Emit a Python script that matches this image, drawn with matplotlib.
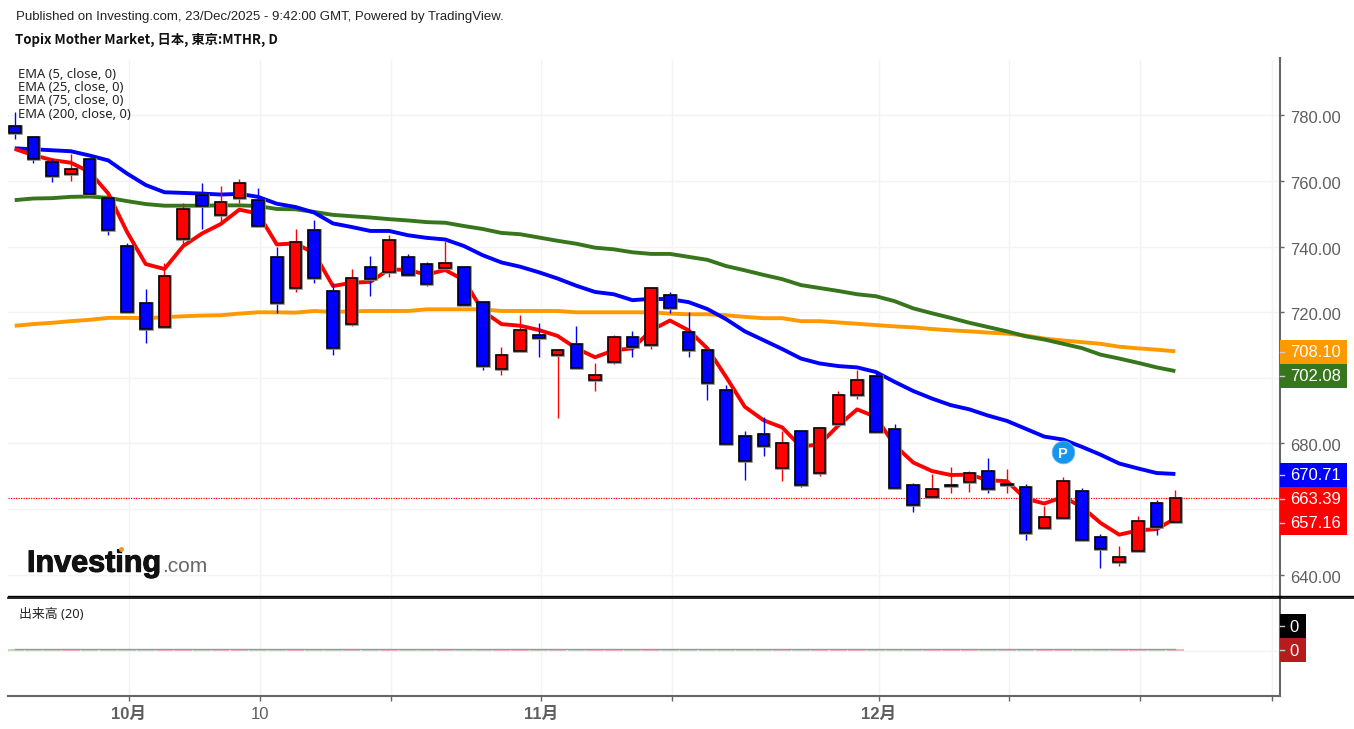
import matplotlib
matplotlib.use("Agg")
import matplotlib.pyplot as plt
import matplotlib.patheffects as pe
from matplotlib.lines import Line2D
from matplotlib.patches import Rectangle
from matplotlib.transforms import ScaledTranslation

W, H = 1354, 729

opens = [776.8,773.5,765.7,762.1,766.6,754.8,740.2,722.8,715.4,742.4,755.7,749.7,754.7,754.3,736.9,727.3,745.1,726.4,716.3,733.8,732.3,
         736.9,734.7,733.6,733.7,723.2,702.6,708.1,713.2,707.1,710.4,699.3,704.9,712.6,709.9,725.4,714.0,708.5,696.2,682.4,682.9,672.4,
         683.8,671.0,685.8,694.8,700.7,684.3,667.4,663.7,667.1,668.3,671.5,667.4,666.6,654.1,657.3,665.5,651.4,644.0,647.2,661.9,656.0]
highs = [781.0,773.5,766.6,768.2,766.7,754.8,741.2,727.0,734.9,753.2,759.5,758.6,760.5,757.8,739.9,745.4,748.1,728.8,733.1,737.1,743.5,
         737.9,735.2,741.7,733.9,723.2,709.3,719.3,716.6,708.5,715.7,704.6,713.0,714.2,727.7,726.1,720.1,708.5,697.7,683.7,688.1,683.7,
         683.8,684.8,695.9,702.3,701.4,685.8,668.0,670.8,672.7,671.6,675.7,672.1,667.5,661.0,669.9,666.3,652.5,648.8,658.0,662.9,665.7]
lows = [772.9,765.6,759.6,760.0,756.0,743.6,720.0,710.7,715.4,740.8,745.4,747.6,753.2,745.9,719.8,726.2,729.0,707.0,715.7,724.9,730.8,
        731.0,728.1,733.6,722.2,702.4,701.0,708.1,706.5,687.8,703.1,695.9,704.3,706.5,708.8,719.7,706.5,693.2,679.7,669.0,676.3,668.6,
        666.8,670.0,685.3,693.7,683.4,666.5,659.0,663.7,664.9,665.3,664.9,664.9,650.7,654.1,657.3,650.5,642.0,642.5,647.2,652.1,656.0]
closes = [774.8,766.7,761.6,763.6,756.1,745.1,720.0,715.0,731.0,751.5,752.5,753.5,759.4,746.4,722.7,741.5,730.5,709.0,730.5,730.0,741.9,
          731.4,728.7,735.1,722.2,703.6,707.1,714.5,712.2,708.5,703.1,700.8,712.6,709.5,727.3,721.3,708.5,698.5,679.7,674.7,679.3,680.2,
          667.4,684.8,694.8,699.4,683.4,666.5,661.4,666.1,667.3,671.0,666.0,667.5,652.7,657.7,668.7,650.5,647.8,645.4,656.4,654.6,663.39]

ema5 = [769.8,767.9,766.4,765.6,762.8,756.2,744.5,734.7,733.2,740.2,744.0,746.9,751.3,750.1,740.7,741.0,738.0,728.0,729.0,729.3,733.1,
        732.9,731.5,732.9,729.8,720.4,716.4,715.9,714.6,712.8,709.0,706.3,708.4,709.0,714.5,717.5,714.5,709.0,700.3,691.2,687.1,684.9,
        679.0,679.8,685.5,690.4,688.1,679.5,674.2,671.6,670.4,670.5,668.8,668.5,663.2,661.7,663.7,660.7,655.8,652.2,653.5,653.9,657.16]
ema25 = [770.0,769.7,769.4,769.1,767.8,766.3,762.3,758.8,756.6,756.4,756.2,755.9,756.1,755.2,753.1,752.1,750.4,747.1,746.0,744.8,744.8,
         743.5,742.7,742.2,740.2,737.4,735.2,733.9,732.2,730.3,728.1,726.2,725.5,723.7,724.1,724.0,723.1,721.0,717.9,714.2,711.5,708.8,
         705.9,704.4,703.6,703.2,701.8,698.8,696.0,693.7,691.7,690.4,688.5,686.9,684.5,682.1,681.2,679.0,676.6,673.9,672.4,671.0,670.71]
ema75 = [754.2,754.7,754.8,755.2,755.3,754.9,753.9,753.0,752.5,752.5,752.5,752.6,752.6,752.4,751.5,751.4,750.6,749.7,749.3,748.9,748.4,
         748.0,747.5,747.3,746.3,745.4,744.2,743.8,742.8,741.8,740.9,739.7,739.2,738.3,737.8,737.8,736.9,736.0,734.1,732.8,731.4,730.1,
         728.3,727.4,726.5,725.5,724.9,723.4,721.2,719.7,718.3,716.8,715.5,714.2,712.7,711.7,710.4,709.1,707.1,705.9,704.6,703.2,702.08]
ema200 = [715.9,716.4,716.8,717.3,717.7,718.3,718.3,718.2,718.5,718.8,719.0,719.1,719.6,720.0,720.0,719.9,720.4,720.1,720.3,720.4,720.4,
          720.4,720.9,720.9,720.9,720.9,720.4,720.4,720.4,720.4,720.0,720.0,720.0,720.0,720.0,719.6,719.4,719.4,719.1,718.6,718.2,718.2,
          717.3,717.3,716.9,716.5,716.1,715.7,715.4,714.9,714.5,714.2,713.8,713.5,712.9,712.0,711.4,710.9,710.4,709.5,709.0,708.6,708.10]
# pane volume is effectively zero; bars are hairlines
volume = [1.5] * 63
volume_ma = [1.5] * 63

price_ticks = [640, 660, 680, 700, 720, 740, 760, 780]
hidden_price_labels = [660, 700]
date_ticks = [6.09, 13.12, 20.12, 28.13, 35.1, 46.15, 53.13, 60.09, 67.15]
date_labels = ["10月", "10", "", "11月", "", "12月", "", "", ""]
date_bold = [True, False, False, True, False, True, False, False, False]
legend_labels = ["EMA (5, close, 0)", "EMA (25, close, 0)", "EMA (75, close, 0)", "EMA (200, close, 0)"]

C_UP, C_DOWN = "#ff0000", "#0000ff"
C_GRID = "#f3f3f3"
C_AXIS = "#666666"
C_TEXT = "#5f5f5f"
SANS = ["Liberation Sans", "Noto Sans CJK JP", "DejaVu Sans"]
NOTO = ["Noto Sans", "Noto Sans CJK JP", "DejaVu Sans"]

fig = plt.figure(figsize=(W / 100, H / 100), dpi=100, facecolor="white")


def pane(left, top, right, bottom):
    return fig.add_axes([left / W, 1 - bottom / H, (right - left) / W, (bottom - top) / H])


ax = pane(8, 60, 1280, 597)
vax = pane(8, 598, 1280, 696)
xlim = (-0.358, 67.59)
xs = list(range(len(closes)))

for a in (ax, vax):
    a.set_xlim(*xlim)
    a.set_xticks(date_ticks)
    a.grid(True, axis="x", color=C_GRID, lw=1)
    a.set_axisbelow(True)
    for s in a.spines.values():
        s.set_visible(False)
    a.yaxis.tick_right()
    a.patch.set_alpha(0)

# price pane
ax.set_ylim(633.2, 796.92)
ax.set_yticks(price_ticks)
ax.grid(True, axis="y", color=C_GRID, lw=1)
ax.set_yticklabels(["" if t in hidden_price_labels else f"{t:.2f}" for t in price_ticks],
                   family=SANS, fontsize=12, color=C_TEXT)
ax.tick_params(axis="y", length=3, width=1, color=C_AXIS, pad=4.5)
ax.tick_params(axis="x", length=0, labelbottom=False)
down2 = ScaledTranslation(0, -2 / 100, fig.dpi_scale_trans)
for lab in ax.get_yticklabels():
    lab.set_transform(lab.get_transform() + down2)
ax.spines["right"].set_visible(True)
ax.spines["right"].set_color(C_AXIS)
ax.spines["right"].set_linewidth(1.5)

ax.axhline(closes[-1], color=C_UP, lw=0.9, ls=(0, (1, 1)), zorder=2)

for series, col in ((ema200, "#ff9900"), (ema75, "#38761d"), (ema25, C_DOWN), (ema5, C_UP)):
    ax.plot(xs, series, color=col, lw=2.8, solid_joinstyle="round", solid_capstyle="butt", zorder=3)

for i in xs:
    o, h, l, c = opens[i], highs[i], lows[i], closes[i]
    col = C_UP if c >= o else C_DOWN
    low_b, top_b = min(o, c), max(o, c)
    ax.vlines(i, l, h, color=col, lw=1.0, zorder=4)
    ax.bar(i, top_b - low_b, bottom=low_b, width=0.62, color="none", edgecolor="#8a8a8a", lw=1.9, zorder=5)
    ax.bar(i, top_b - low_b, bottom=low_b, width=0.62, color=col, edgecolor="black", lw=1.1, zorder=6)

ax.scatter([56], [677.4], s=265, color="#1596ee", edgecolor="#6bbcf2", lw=0.6, zorder=7)
ax.text(56, 677.4, "P", color="white", fontsize=10.5, fontweight="bold", family=SANS,
        ha="center", va="center_baseline", zorder=8)

# volume pane
vax.set_ylim(-45.5, 52.5)
vax.set_yticks([0])
vax.grid(True, axis="y", color=C_GRID, lw=1)
vax.set_yticklabels([""])
vax.tick_params(axis="y", length=0)
vax.tick_params(axis="x", length=3.6, width=1, color=C_AXIS, pad=4)
vax.set_xticklabels(date_labels, family=SANS, fontsize=12, color=C_TEXT)
for lab, b in zip(vax.get_xticklabels(), date_bold):
    lab.set_fontweight("bold" if b else "normal")
vol_cols = ["#f2b9b9" if closes[i] >= opens[i] else "#b6deb6" for i in xs]
vax.bar(xs, volume, width=0.94, color=vol_cols, zorder=2)
vax.plot(xs, volume_ma, color="#9a9a9a", lw=1.0, zorder=3)
vax.spines["right"].set_visible(True)
vax.spines["right"].set_color(C_AXIS)
vax.spines["right"].set_linewidth(1.5)
vax.spines["bottom"].set_visible(True)
vax.spines["bottom"].set_color(C_AXIS)
vax.spines["bottom"].set_linewidth(1.5)


def fx(x):
    return x / W


def fy(y):
    return 1 - y / H


# pane separator (double rule) and top stub of the axis
fig.add_artist(Line2D([fx(8), fx(1354)], [fy(596.3)] * 2, color="black", lw=1.0))
fig.add_artist(Line2D([fx(8), fx(1354)], [fy(598.2)] * 2, color="black", lw=1.2))
fig.add_artist(Line2D([fx(1280)] * 2, [fy(58), fy(60)], color=C_AXIS, lw=1.5))


def tag(text, yc, colour, right=1347):
    fig.add_artist(Rectangle((fx(1279.5), fy(yc + 12)), (right - 1279.5) / W, 24 / H,
                             transform=fig.transFigure, facecolor=colour, edgecolor="none", zorder=10))
    fig.add_artist(Line2D([fx(1280), fx(1284)], [fy(yc)] * 2, color="#cccccc", lw=1, zorder=11))
    tx = 1290 if right > 1320 else 1289.5
    fig.text(fx(tx), fy(yc + 1), text, color="white", fontsize=12, family=SANS,
             ha="left", va="center", zorder=12)


tag(f"{ema200[-1]:.2f}", 351.5, "#ff9900")
tag(f"{ema75[-1]:.2f}", 375.5, "#38761d")
tag(f"{ema25[-1]:.2f}", 474.5, "#0000ff")
tag(f"{closes[-1]:.2f}", 498.5, "#ff0000")
tag(f"{ema5[-1]:.2f}", 522.5, "#ff0000")
tag("0", 626, "#000000", right=1306)
tag("0", 650, "#b71c1c", right=1306)

# header text
fig.text(fx(16), fy(17), "Published on Investing.com, 23/Dec/2025 - 9:42:00 GMT, Powered by TradingView.",
         fontsize=9.56, family=SANS, color="#222222", ha="left", va="center")
fig.text(fx(15), fy(40), "Topix Mother Market, 日本, 東京:MTHR, D", fontsize=9.5,
         family=["Noto Sans CJK JP", "DejaVu Sans"], fontweight="bold", color="#111111", ha="left", va="center")

for label, y in zip(legend_labels, (74, 87.5, 101, 115)):
    fig.text(fx(18), fy(y), label, fontsize=9.3, family=NOTO, color="#222222", ha="left", va="center", zorder=9)
fig.text(fx(19), fy(615), "出来高 (20)", fontsize=9.3, family=NOTO, color="#222222", ha="left", va="center")

# logo
fig.text(fx(27), fy(571.7), "Investing", fontsize=22, fontweight="bold", family=SANS, color="#111111",
         ha="left", va="baseline", zorder=9,
         path_effects=[pe.withStroke(linewidth=0.8, foreground="#111111")])
fig.text(fx(162), fy(571.7), ".com", fontsize=15, family=SANS, color="#666666", ha="left", va="baseline", zorder=9)
fig.add_artist(Line2D([fx(121)], [fy(549)], marker="o", ms=3.6, color="#f7941d", mew=0, zorder=10))

fig.savefig("out.png", dpi=100, facecolor="white")
